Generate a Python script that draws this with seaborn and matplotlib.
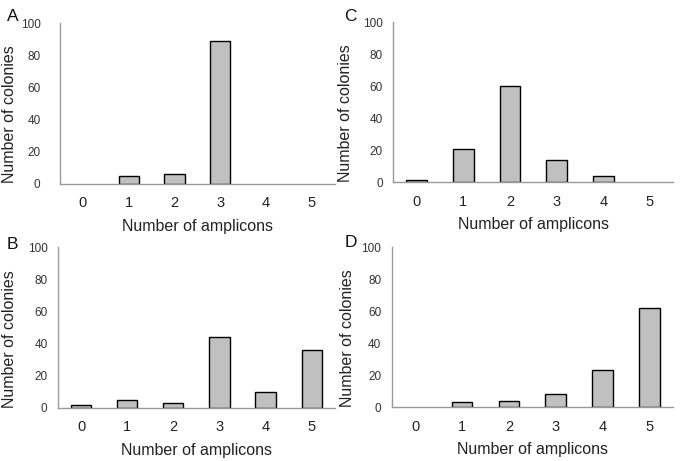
import matplotlib
matplotlib.use("Agg")
import matplotlib.pyplot as plt
import seaborn as sns
import numpy as np
import pandas as pd

sns.set_style("white")
plt.rcParams['font.family'] = ['Liberation Sans', 'DejaVu Sans']

amplicons = ['0', '1', '2', '3', '4', '5']
colonies_a = [0, 5, 6, 89, 0, 0]
colonies_b = [2, 5, 3, 44, 10, 36]
colonies_c = [1, 21, 60, 14, 4, 0]
colonies_d = [0, 3, 4, 8, 23, 62]

fig = plt.figure(figsize=(6.85, 4.61), dpi=100)

# letter, data, axes rect, letter pos (fig fraction), ylabel coords (axes), ytick pad
panels = [
    ('A', colonies_a, [0.0876, 0.601, 0.401, 0.349], (0.010, 0.965), (-0.156, 0.435), 10),
    ('C', colonies_c, [0.574, 0.605, 0.409, 0.347], (0.503, 0.965), (-0.143, 0.43), 3.5),
    ('B', colonies_b, [0.0847, 0.115, 0.404, 0.349], (0.010, 0.469), (-0.148, 0.43), 3.5),
    ('D', colonies_d, [0.572, 0.117, 0.410, 0.347], (0.503, 0.473), (-0.132, 0.43), 3.5),
]

for letter, vals, rect, lpos, ylpos, ypad in panels:
    ax = fig.add_axes(rect)
    df = pd.DataFrame({'amplicons': amplicons, 'colonies': vals})
    sns.barplot(data=df, x='amplicons', y='colonies', ax=ax,
                color='#c0c0c0', edgecolor='black', linewidth=1.0,
                width=0.44, saturation=1)
    # empty categories show nothing
    for p in ax.patches:
        if p.get_height() == 0:
            p.set_linewidth(0)
    ax.set_xlim(-0.5, 5.5)
    ax.set_ylim(0, 100)
    ax.set_yticks([0, 20, 40, 60, 80, 100])
    ax.set_xticks(np.arange(-0.5, 6, 1), minor=True)
    ax.tick_params(axis='x', which='major', length=0, pad=9, labelsize=10.5, colors='#222222')
    ax.tick_params(axis='x', which='minor', length=4, color='#999999', direction='out')
    ax.tick_params(axis='y', length=4, direction='out', labelsize=8.5, colors='#333333', pad=ypad)
    ax.tick_params(axis='y', color='#999999')
    for s in ['top', 'right']:
        ax.spines[s].set_visible(False)
    for s in ['left', 'bottom']:
        ax.spines[s].set_color('#999999')
        ax.spines[s].set_linewidth(1.0)
    ax.set_xlabel('Number of amplicons', fontsize=11.5, color='#222222', labelpad=6)
    ax.set_ylabel('Number of colonies', fontsize=11.5, color='#222222')
    ax.yaxis.set_label_coords(*ylpos)
    fig.text(lpos[0], lpos[1], letter, fontsize=12.5, ha='left', va='center', color='#111111')

fig.savefig('out.png', dpi=100)
